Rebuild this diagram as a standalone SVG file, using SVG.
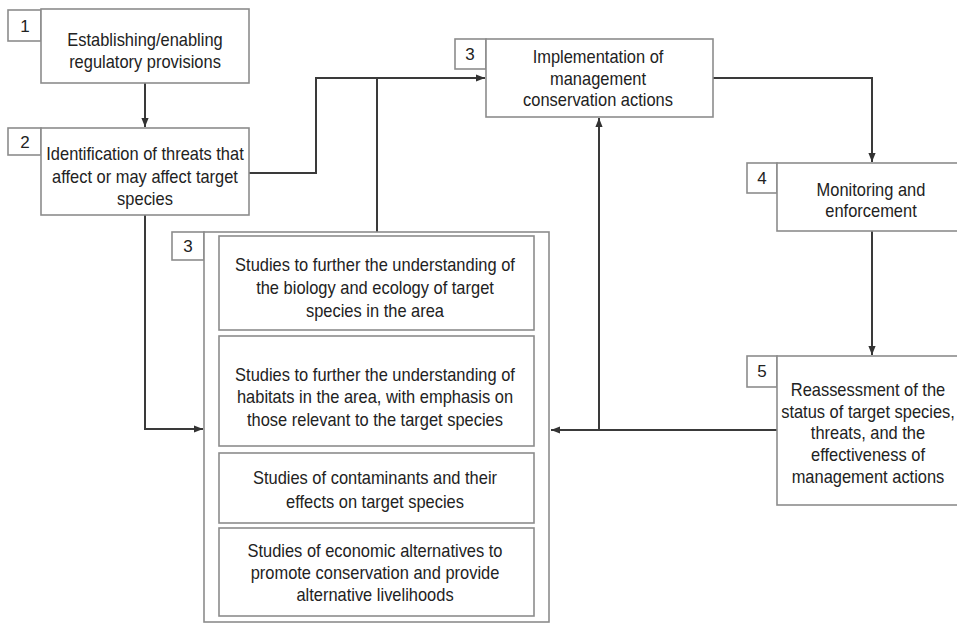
<svg xmlns="http://www.w3.org/2000/svg" width="957" height="624" viewBox="0 0 957 624">
<defs>
<style>
.box{fill:#fff;stroke:#8c8c8c;stroke-width:1.6}
.t{font-family:"Liberation Sans",Arial,sans-serif;font-size:17.8px;fill:#222;text-anchor:middle}
.n{font-family:"Liberation Sans",Arial,sans-serif;font-size:17px;fill:#222;text-anchor:middle}
.c{fill:none;stroke:#3a3a3a;stroke-width:2}
</style>
<marker id="ah" markerUnits="userSpaceOnUse" markerWidth="9" markerHeight="9" viewBox="0 0 10 10" refX="10" refY="5" orient="auto">
<path d="M0,1 L10,5 L0,9 z" fill="#333"/>
</marker>
</defs>
<rect width="957" height="624" fill="#fff"/>
<g id="connectors">
<path class="c" d="M145,83 V127" marker-end="url(#ah)"/>
<path class="c" d="M249,173 H316 V78 H485" marker-end="url(#ah)"/>
<path class="c" d="M377,78 V232"/>
<path class="c" d="M145,215 V429 H203" marker-end="url(#ah)"/>
<path class="c" d="M713,78 H872 V162" marker-end="url(#ah)"/>
<path class="c" d="M872,231 V355" marker-end="url(#ah)"/>
<path class="c" d="M777,430 H551" marker-end="url(#ah)"/>
<path class="c" d="M599,430 V118" marker-end="url(#ah)"/>
</g>
<g id="node1">
<rect class="box" x="8" y="10" width="33" height="31"/>
<rect class="box" x="41" y="9" width="208" height="74"/>
<text class="n" x="25" y="32">1</text>
<text class="t" transform="translate(145 46) scale(0.925 1)">Establishing/enabling</text>
<text class="t" transform="translate(145 68) scale(0.925 1)">regulatory provisions</text>
</g>
<g id="node2">
<rect class="box" x="8" y="128" width="33" height="27"/>
<rect class="box" x="41" y="128" width="208" height="87"/>
<text class="n" x="25" y="148">2</text>
<text class="t" transform="translate(145 160) scale(0.925 1)">Identification of threats that</text>
<text class="t" transform="translate(145 183) scale(0.925 1)">affect or may affect target</text>
<text class="t" transform="translate(145 205) scale(0.925 1)">species</text>
</g>
<g id="node3">
<rect class="box" x="455" y="39" width="31" height="30"/>
<rect class="box" x="486" y="39" width="227" height="78"/>
<text class="n" x="470" y="60">3</text>
<text class="t" transform="translate(598 63) scale(0.925 1)">Implementation of</text>
<text class="t" transform="translate(598 85) scale(0.925 1)">management</text>
<text class="t" transform="translate(598 106) scale(0.925 1)">conservation actions</text>
</g>
<g id="node4">
<rect class="box" x="747" y="163" width="30" height="30"/>
<rect class="box" x="777" y="163" width="190" height="68"/>
<text class="n" x="762" y="184">4</text>
<text class="t" transform="translate(871 196) scale(0.925 1)">Monitoring and</text>
<text class="t" transform="translate(871 217) scale(0.925 1)">enforcement</text>
</g>
<g id="node5">
<rect class="box" x="747" y="356" width="30" height="31"/>
<rect class="box" x="777" y="356" width="190" height="149"/>
<text class="n" x="762" y="377">5</text>
<text class="t" transform="translate(868 396) scale(0.925 1)">Reassessment of the</text>
<text class="t" transform="translate(868 418) scale(0.925 1)">status of target species,</text>
<text class="t" transform="translate(868 439) scale(0.925 1)">threats, and the</text>
<text class="t" transform="translate(868 461) scale(0.925 1)">effectiveness of</text>
<text class="t" transform="translate(868 483) scale(0.925 1)">management actions</text>
</g>
<g id="node6">
<rect class="box" x="172" y="232" width="32" height="28"/>
<rect class="box" x="204" y="232" width="345" height="390"/>
<text class="n" x="188" y="252">3</text>
<rect class="box" x="219" y="236" width="315" height="94"/>
<text class="t" transform="translate(375 271) scale(0.925 1)">Studies to further the understanding of</text>
<text class="t" transform="translate(375 294) scale(0.925 1)">the biology and ecology of target</text>
<text class="t" transform="translate(375 317) scale(0.925 1)">species in the area</text>
<rect class="box" x="219" y="336" width="315" height="110"/>
<text class="t" transform="translate(375 381) scale(0.925 1)">Studies to further the understanding of</text>
<text class="t" transform="translate(375 403) scale(0.925 1)">habitats in the area, with emphasis on</text>
<text class="t" transform="translate(375 426) scale(0.925 1)">those relevant to the target species</text>
<rect class="box" x="219" y="453" width="315" height="70"/>
<text class="t" transform="translate(375 484) scale(0.925 1)">Studies of contaminants and their</text>
<text class="t" transform="translate(375 508) scale(0.925 1)">effects on target species</text>
<rect class="box" x="219" y="528" width="315" height="88"/>
<text class="t" transform="translate(375 557) scale(0.925 1)">Studies of economic alternatives to</text>
<text class="t" transform="translate(375 579) scale(0.925 1)">promote conservation and provide</text>
<text class="t" transform="translate(375 601) scale(0.925 1)">alternative livelihoods</text>
</g>
</svg>
